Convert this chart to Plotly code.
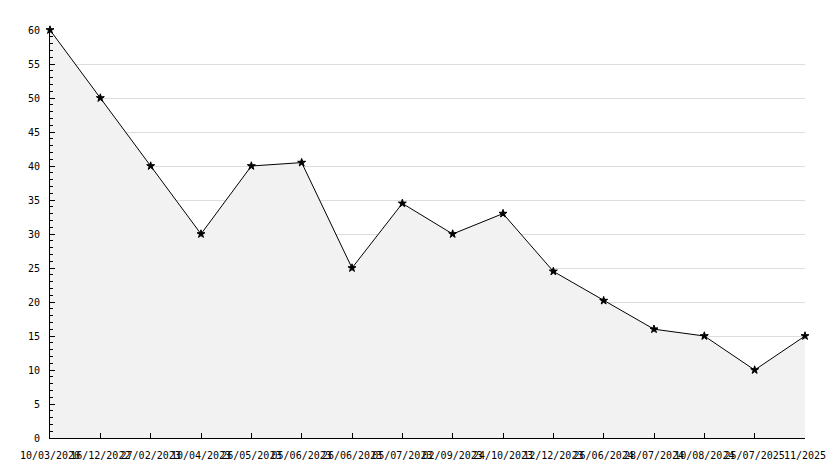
import plotly.graph_objects as go

dates = ["10/03/2020", "16/12/2022", "27/02/2023", "10/04/2023", "26/05/2023",
         "05/06/2023", "26/06/2023", "05/07/2023", "02/09/2023", "24/10/2023",
         "12/12/2023", "26/06/2024", "28/07/2024", "10/08/2024", "25/07/2025", "11/2025"]
values = [60, 50, 40, 30, 40, 40.5, 25, 34.5, 30, 33, 24.5, 20.2, 16, 15, 10, 15]
y_ticks = list(range(0, 61, 5))

fig = go.Figure()
fig.add_trace(go.Scatter(
    x=dates, y=values, mode="lines+markers",
    fill="tozeroy", fillcolor="#f2f2f2",
    line=dict(color="black", width=1),
    marker=dict(symbol="star", size=6, color="black", line=dict(color="black", width=1)),
    cliponaxis=False,
))
fig.update_layout(
    width=834, height=468,
    margin=dict(l=50, r=29, t=30, b=30),
    paper_bgcolor="white", plot_bgcolor="white",
    showlegend=False,
    font=dict(family="DejaVu Sans Mono", size=10, color="black"),
)
fig.update_xaxes(
    type="category", range=[0, len(dates) - 1], automargin=False,
    tickmode="array", tickvals=dates, ticktext=dates, tickangle=0,
    showgrid=False, showline=True, linecolor="black", linewidth=1,
    ticks="inside", ticklen=5, tickcolor="black", zeroline=False,
    ticklabelstandoff=8,
)
fig.update_yaxes(
    range=[0, 60], tickmode="array", tickvals=y_ticks, automargin=False,
    showgrid=True, gridcolor="#dddddd", gridwidth=1,
    showline=True, linecolor="black", linewidth=1,
    ticks="inside", ticklen=5, tickcolor="black", zeroline=False,
    ticklabelstandoff=7,
    minor=dict(dtick=1, ticks="inside", ticklen=3, tickcolor="black", showgrid=False),
)
fig.write_html("out.html", config={"displayModeBar": False},
               post_script="document.body.style.margin='0';document.body.style.overflow='hidden';")
